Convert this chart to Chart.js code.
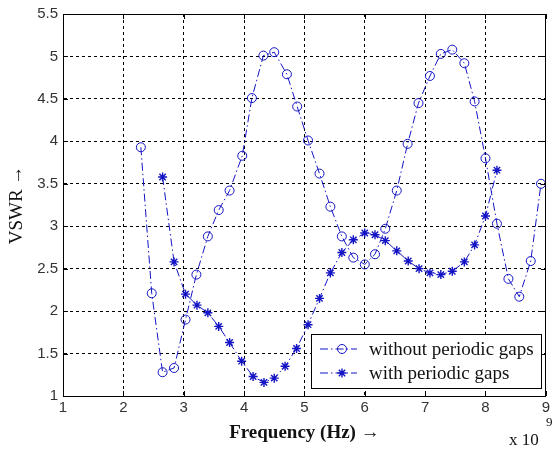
<!DOCTYPE html>
<html>
<head>
<meta charset="utf-8">
<script src="https://cdn.jsdelivr.net/npm/chart.js@4/dist/chart.umd.min.js"></script>
<style>
  html, body { margin: 0; padding: 0; background: #fff; }
  #wrap { width: 553px; height: 450px; }
</style>
</head>
<body>
<div id="wrap"><canvas id="vswrChart" width="553" height="450"></canvas></div>
<script>
// frequency in units of 10^9 Hz
const freqNoGaps = [2.29, 2.47, 2.65, 2.84, 3.03, 3.21, 3.40, 3.58, 3.76, 3.97, 4.13, 4.32, 4.50,
    4.71, 4.88, 5.06, 5.25, 5.43, 5.62, 5.81, 6.00, 6.17, 6.34, 6.53, 6.71, 6.89, 7.08, 7.26,
    7.45, 7.65, 7.82, 8.00, 8.19, 8.38, 8.56, 8.75, 8.92];
const vswrNoGaps = [3.93, 2.21, 1.28, 1.33, 1.90, 2.43, 2.88, 3.19, 3.42, 3.83, 4.51, 5.01, 5.05,
    4.79, 4.41, 4.01, 3.62, 3.23, 2.88, 2.63, 2.55, 2.67, 2.97, 3.42, 3.97, 4.45, 4.77, 5.03,
    5.08, 4.92, 4.47, 3.80, 3.03, 2.38, 2.17, 2.59, 3.50];

const freqGaps = [2.65, 2.84, 3.03, 3.22, 3.40, 3.58, 3.76, 3.96, 4.15, 4.33, 4.50, 4.68, 4.87,
    5.06, 5.25, 5.43, 5.62, 5.81, 6.00, 6.17, 6.34, 6.53, 6.72, 6.90, 7.08, 7.26, 7.45, 7.65,
    7.82, 8.00, 8.19];
const vswrGaps = [3.58, 2.58, 2.20, 2.07, 1.98, 1.82, 1.63, 1.41, 1.23, 1.16, 1.21, 1.35, 1.56,
    1.84, 2.15, 2.45, 2.69, 2.84, 2.92, 2.90, 2.83, 2.71, 2.59, 2.50, 2.45, 2.43, 2.47, 2.58,
    2.78, 3.12, 3.66];

const seriesNames = ["without periodic gaps", "with periodic gaps"];

const blue = "#1414c4";
const dashDot = [8, 3, 1.5, 3];
const tickFont = { family: "'Liberation Sans', Arial, sans-serif", size: 15 };
const serif = "'Liberation Serif', 'Times New Roman', serif";

const toPoints = (xs, ys) => xs.map((x, i) => ({ x: x, y: ys[i] }));

// small inward ticks, full box, x10^9 label and the inset legend
const matlabLook = {
    id: "matlabLook",
    afterDraw(chart) {
        const ctx = chart.ctx;
        const area = chart.chartArea;
        const xs = chart.scales.x;
        const ys = chart.scales.y;
        ctx.save();
        ctx.strokeStyle = "#000";
        ctx.lineWidth = 1;
        ctx.setLineDash([]);
        ctx.beginPath();
        xs.ticks.forEach((t) => {
            const px = Math.round(xs.getPixelForValue(t.value)) + 0.5;
            ctx.moveTo(px, area.bottom); ctx.lineTo(px, area.bottom - 5);
            ctx.moveTo(px, area.top); ctx.lineTo(px, area.top + 5);
        });
        ys.ticks.forEach((t) => {
            const py = Math.round(ys.getPixelForValue(t.value)) + 0.5;
            ctx.moveTo(area.left, py); ctx.lineTo(area.left + 5, py);
            ctx.moveTo(area.right, py); ctx.lineTo(area.right - 5, py);
        });
        ctx.stroke();
        ctx.strokeRect(Math.round(area.left) + 0.5, Math.round(area.top) + 0.5,
            Math.round(area.right - area.left) - 1, Math.round(area.bottom - area.top));

        // exponent label
        ctx.fillStyle = "#111";
        ctx.textBaseline = "alphabetic";
        ctx.textAlign = "left";
        ctx.font = "17px " + serif;
        ctx.fillText("x 10", 509, 445);
        ctx.font = "13px " + serif;
        ctx.fillText("9", 546, 426);

        // legend
        const lx = 311, ly = 334, lw = 230, lh = 54;
        ctx.fillStyle = "#fff";
        ctx.fillRect(lx, ly, lw, lh);
        ctx.strokeStyle = "#000";
        ctx.strokeRect(lx + 0.5, ly + 0.5, lw, lh);
        const rows = [ly + 15, ly + 39];
        rows.forEach((ry, i) => {
            ctx.strokeStyle = blue;
            ctx.lineWidth = 1;
            ctx.setLineDash(dashDot);
            ctx.beginPath();
            ctx.moveTo(320, ry); ctx.lineTo(357, ry);
            ctx.stroke();
            ctx.setLineDash([]);
            ctx.beginPath();
            if (i === 0) {
                ctx.arc(342, ry, 4.5, 0, Math.PI * 2);
            } else {
                const r = 4.5, d = r * Math.SQRT1_2;
                ctx.lineWidth = 1.4;
                ctx.moveTo(342 - r, ry); ctx.lineTo(342 + r, ry);
                ctx.moveTo(342, ry - r); ctx.lineTo(342, ry + r);
                ctx.moveTo(342 - d, ry - d); ctx.lineTo(342 + d, ry + d);
                ctx.moveTo(342 - d, ry + d); ctx.lineTo(342 + d, ry - d);
            }
            ctx.stroke();
            ctx.fillStyle = "#111";
            ctx.font = "19px " + serif;
            ctx.textBaseline = "middle";
            ctx.fillText(seriesNames[i], 369, ry + 1);
        });
        ctx.restore();
    }
};

new Chart(document.getElementById("vswrChart"), {
    type: "line",
    data: {
        datasets: [
            {
                label: seriesNames[0],
                data: toPoints(freqNoGaps, vswrNoGaps),
                borderColor: blue,
                borderWidth: 1,
                borderDash: dashDot,
                backgroundColor: "rgba(0,0,0,0)",
                pointStyle: "circle",
                pointRadius: 4.5,
                pointBorderWidth: 1,
                pointBorderColor: blue,
                pointBackgroundColor: "rgba(0,0,0,0)",
                tension: 0,
                fill: false,
            },
            {
                label: seriesNames[1],
                data: toPoints(freqGaps, vswrGaps),
                borderColor: blue,
                borderWidth: 1,
                borderDash: dashDot,
                backgroundColor: "rgba(0,0,0,0)",
                pointStyle: "star",
                pointRadius: 4.5,
                pointBorderWidth: 1.4,
                pointBorderColor: blue,
                pointBackgroundColor: blue,
                tension: 0,
                fill: false,
            },
        ],
    },
    options: {
        responsive: false,
        animation: false,
        layout: { padding: { top: 14, right: 1.5, left: 0, bottom: 0 } },
        plugins: {
            legend: { display: false },
            tooltip: { enabled: false },
        },
        scales: {
            x: {
                type: "linear",
                min: 1,
                max: 9,
                afterFit: (scale) => { scale.height = 54; },
                ticks: { stepSize: 1, color: "#333", font: tickFont, padding: 3, maxRotation: 0 },
                grid: { color: "#000", lineWidth: 1, drawTicks: false },
                border: { color: "#000", width: 1, dash: [3, 3] },
                title: {
                    display: true,
                    text: "Frequency (Hz) \u2192",
                    color: "#111",
                    font: { family: serif, size: 19, weight: "bold" },
                    padding: { top: 0, bottom: 6 },
                },
            },
            y: {
                type: "linear",
                min: 1,
                max: 5.5,
                afterFit: (scale) => { scale.width = 63; },
                ticks: {
                    stepSize: 0.5,
                    color: "#333",
                    font: tickFont,
                    padding: 5,
                    callback: (v) => String(Math.round(v * 10) / 10),
                },
                grid: { color: "#000", lineWidth: 1, drawTicks: false },
                border: { color: "#000", width: 1, dash: [3, 3] },
                title: {
                    display: true,
                    text: "VSWR \u2192",
                    color: "#111",
                    font: { family: serif, size: 19 },
                    padding: { top: 6, bottom: 0 },
                },
            },
        },
    },
    plugins: [matlabLook],
});
</script>
</body>
</html>
